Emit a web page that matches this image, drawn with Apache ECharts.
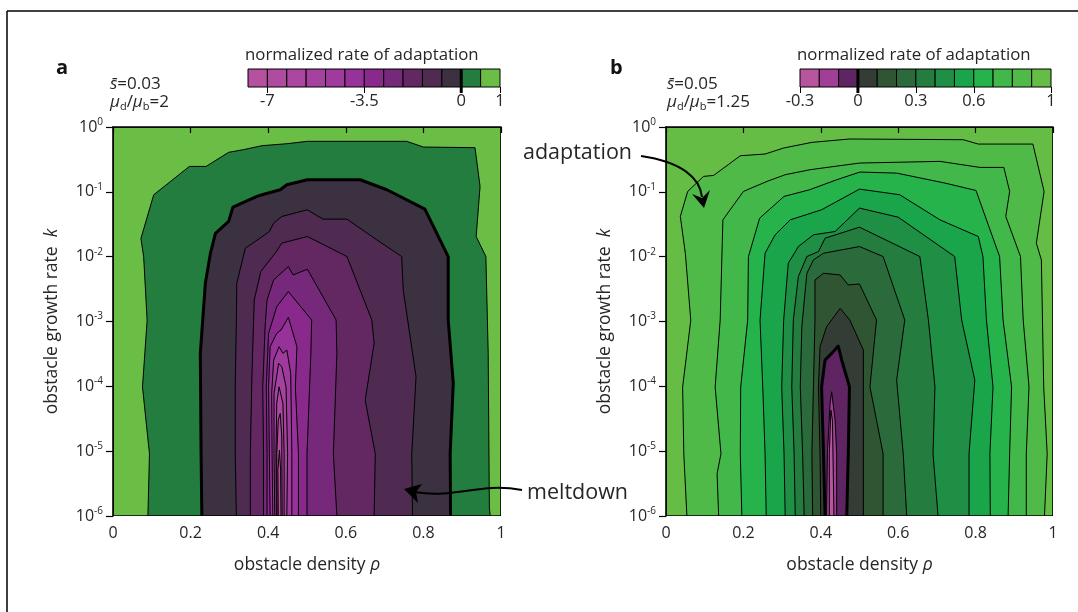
<!DOCTYPE html>
<html><head><meta charset="utf-8">
<script src="https://cdn.jsdelivr.net/npm/echarts@6/dist/echarts.min.js"></script>
<style>html,body{margin:0;padding:0;background:#fff}#c{width:1078px;height:612px}</style>
</head><body><div id="c"></div>
<script>
// ---------- data ----------
const rhoTicks = [0, 0.2, 0.4, 0.6, 0.8, 1];
const logKTicks = [-6, -5, -4, -3, -2, -1, 0];

// colorbar a: box edges, colors, tick labels
const edgesA = [-7.7, -7, -6.3, -5.6, -4.9, -4.2, -3.5, -2.8, -2.1, -1.4, -0.7, 0, 0.5, 1];
const colorsA = ['#b5519f','#b04ca0','#ab47a0','#a542a0','#9e3b9d','#963299','#88298b','#76297a','#632862','#4f2a51','#3c3140','#237d3e','#6abd45'];
const cbTicksA = [-7, -3.5, 0, 1];
// colorbar b
const edgesB = [-0.3, -0.2, -0.1, 0, 0.1, 0.2, 0.3, 0.4, 0.5, 0.6, 0.7, 0.8, 0.9, 1];
const colorsB = ['#b8559f','#a23d98','#5f2562','#333d35','#2f5532','#2b6a3a','#247c3f','#1f8f46','#1ba54b','#27b34c','#42b74a','#50ba48','#66bd46'];
const cbTicksB = [-0.3, 0, 0.3, 0.6, 1];

// contour levels (outer -> inner) and contour paths [rho, log10 k]
const levelsA = [0.5, 0, -0.7, -1.4, -2.1, -2.8, -3.5, -4.2, -4.9, -5.6, -6.3, -7];
const cA0 = [[0.090,-6],[0.094,-5.04],[0.076,-4.01],[0.088,-2.98],[0.079,-2.0],[0.072,-1.72],[0.105,-1.045],[0.197,-0.608],[0.240,-0.608],[0.298,-0.391],[0.336,-0.350],[0.384,-0.288],[0.448,-0.258],[0.501,-0.221],[0.757,-0.221],[0.800,-0.309],[0.933,-0.319],[0.946,-0.917],[0.936,-1.689],[0.961,-1.998],[0.967,-3.49],[0.970,-5.86],[0.972,-6]];
const cA1 = [[0.229,-6],[0.227,-5.04],[0.225,-3.49],[0.238,-2.41],[0.251,-1.95],[0.264,-1.64],[0.298,-1.457],[0.309,-1.236],[0.371,-1.071],[0.384,-1.045],[0.431,-0.968],[0.448,-0.891],[0.501,-0.814],[0.637,-0.814],[0.706,-0.968],[0.804,-1.267],[0.864,-1.998],[0.864,-2.977],[0.877,-3.95],[0.869,-5.04],[0.870,-6]];
const cA2 = [[0.318,-6],[0.315,-5.04],[0.315,-4.01],[0.318,-2.98],[0.319,-2.41],[0.341,-1.87],[0.379,-1.715],[0.403,-1.612],[0.414,-1.483],[0.435,-1.380],[0.501,-1.277],[0.541,-1.421],[0.603,-1.421],[0.680,-1.741],[0.744,-1.998],[0.748,-2.513],[0.781,-3.852],[0.770,-5.04],[0.772,-6]];
const cA3 = [[0.354,-6],[0.354,-5.04],[0.358,-3.852],[0.364,-2.668],[0.381,-2.23],[0.418,-1.947],[0.435,-1.792],[0.501,-1.689],[0.603,-1.998],[0.667,-2.977],[0.673,-3.337],[0.650,-4.213],[0.676,-5.04],[0.673,-6]];
const cA4 = [[0.388,-6],[0.388,-5.04],[0.386,-4.01],[0.392,-3.08],[0.397,-2.668],[0.414,-2.359],[0.452,-2.153],[0.464,-2.282],[0.501,-2.194],[0.575,-2.977],[0.577,-3.492],[0.568,-5.04],[0.577,-6]];
const cA5 = [[0.397,-6],[0.397,-5.04],[0.395,-4.01],[0.401,-3.183],[0.422,-2.771],[0.452,-2.539],[0.512,-2.977],[0.510,-3.492],[0.500,-5.04],[0.500,-6]];
const cA6 = [[0.405,-6],[0.403,-5.04],[0.401,-4.01],[0.405,-3.389],[0.422,-3.183],[0.433,-3.131],[0.452,-2.936],[0.474,-3.389],[0.470,-4.01],[0.478,-5.04],[0.478,-6]];
const cA7 = [[0.412,-6],[0.410,-5.04],[0.409,-4.11],[0.414,-3.595],[0.428,-3.389],[0.438,-3.492],[0.448,-3.44],[0.458,-3.801],[0.461,-5.04],[0.461,-6]];
const cA8 = [[0.417,-6],[0.415,-5.04],[0.415,-4.11],[0.427,-3.646],[0.435,-3.698],[0.446,-4.007],[0.450,-5.04],[0.448,-6]];
const cA9 = [[0.421,-6],[0.420,-5.04],[0.422,-4.264],[0.428,-4.007],[0.438,-4.264],[0.441,-5.04],[0.441,-6]];
const cA10 = [[0.423,-6],[0.422,-5.04],[0.426,-4.522],[0.431,-4.419],[0.435,-4.779],[0.436,-6]];
const cA11 = [[0.426,-6],[0.425,-5.294],[0.429,-4.985],[0.432,-5.294],[0.433,-6]];
const contoursA = [cA0,cA1,cA2,cA3,cA4,cA5,cA6,cA7,cA8,cA9,cA10,cA11];

const levelsB = [0.9, 0.8, 0.7, 0.6, 0.5, 0.4, 0.3, 0.2, 0.1, 0, -0.1, -0.2];
const cB0 = [[0.054,-6],[0.046,-5.04],[0.043,-4.01],[0.064,-2.98],[0.050,-1.95],[0.037,-1.38],[0.056,-0.994],[0.097,-0.762],[0.123,-0.747],[0.192,-0.443],[0.256,-0.417],[0.304,-0.324],[0.377,-0.237],[0.475,-0.185],[0.768,-0.196],[0.807,-0.263],[0.948,-0.263],[0.977,-0.994],[0.957,-1.792],[0.970,-2.05],[0.976,-4.01],[0.985,-5.04],[0.978,-6]];
const cB1 = [[0.136,-6],[0.132,-5.346],[0.142,-5.04],[0.127,-4.01],[0.140,-2.98],[0.147,-1.432],[0.200,-0.994],[0.261,-0.839],[0.308,-0.736],[0.372,-0.659],[0.500,-0.556],[0.708,-0.530],[0.811,-0.623],[0.873,-0.623],[0.888,-0.994],[0.878,-1.380],[0.916,-1.998],[0.923,-2.977],[0.938,-4.007],[0.931,-5.04],[0.931,-6]];
const cB2 = [[0.196,-6],[0.192,-5.04],[0.193,-4.01],[0.211,-2.98],[0.213,-2.0],[0.242,-1.406],[0.305,-1.071],[0.371,-0.968],[0.441,-0.814],[0.501,-0.695],[0.596,-0.711],[0.721,-0.865],[0.801,-0.979],[0.862,-1.998],[0.871,-2.977],[0.893,-4.007],[0.888,-5.04],[0.884,-6]];
const cB3 = [[0.259,-6],[0.256,-5.04],[0.250,-4.01],[0.243,-2.98],[0.256,-1.947],[0.282,-1.663],[0.321,-1.432],[0.402,-1.277],[0.500,-0.958],[0.604,-1.045],[0.708,-1.432],[0.807,-1.689],[0.819,-1.998],[0.828,-2.977],[0.845,-4.007],[0.837,-5.04],[0.838,-6]];
const cB4 = [[0.308,-6],[0.305,-5.04],[0.299,-4.01],[0.304,-2.98],[0.316,-2.10],[0.342,-1.844],[0.381,-1.663],[0.437,-1.612],[0.500,-1.251],[0.600,-1.391],[0.746,-1.998],[0.764,-2.977],[0.798,-3.904],[0.783,-5.04],[0.783,-6]];
const cB5 = [[0.334,-6],[0.331,-5.04],[0.325,-4.01],[0.329,-2.98],[0.342,-2.307],[0.364,-1.998],[0.394,-1.921],[0.411,-1.715],[0.500,-1.545],[0.656,-1.998],[0.678,-2.977],[0.695,-4.007],[0.690,-5.04],[0.703,-6]];
const cB6 = [[0.357,-6],[0.353,-5.04],[0.347,-4.01],[0.351,-3.08],[0.364,-2.256],[0.381,-2.05],[0.407,-1.947],[0.500,-1.844],[0.561,-1.998],[0.617,-2.977],[0.596,-3.904],[0.613,-5.04],[0.622,-6]];
const cB7 = [[0.379,-6],[0.377,-5.04],[0.381,-4.01],[0.385,-2.98],[0.385,-2.359],[0.407,-2.256],[0.450,-2.282],[0.471,-2.436],[0.500,-2.421],[0.544,-2.977],[0.527,-4.007],[0.561,-5.04],[0.561,-6]];
const cB8 = [[0.400,-6],[0.398,-5.04],[0.394,-4.01],[0.398,-3.389],[0.415,-3.08],[0.450,-2.797],[0.475,-2.977],[0.510,-3.440],[0.510,-5.04],[0.510,-6]];
const cB9 = [[0.411,-6],[0.407,-5.04],[0.402,-4.01],[0.411,-3.595],[0.428,-3.492],[0.445,-3.378],[0.454,-3.595],[0.474,-4.007],[0.471,-5.04],[0.467,-6]];
const cB10 = [[0.415,-6],[0.417,-5.04],[0.424,-4.264],[0.428,-4.084],[0.437,-4.522],[0.441,-5.04],[0.441,-6]];
const cB11 = [[0.422,-6],[0.422,-5.04],[0.426,-4.367],[0.430,-4.522],[0.434,-6]];
const contoursB = [cB0,cB1,cB2,cB3,cB4,cB5,cB6,cB7,cB8,cB9,cB10,cB11];

// ---------- helpers ----------
const FONT = '"Open Sans", "Noto Sans", sans-serif';
const TXT = '#262626';
function edgeIndex(edges, v){ return edges.findIndex(e => Math.abs(e - v) < 1e-9); }
function fillFor(edges, colors, lv){ const j = edgeIndex(edges, lv); return colors[j - 1]; }

function contourSeries(g, contours, levels, edges, colors){
  const data = [{value:[0.5,-3,-1]}].concat(contours.map((c,i)=>({value:[0.5,-3,i]}))).concat([{value:[0.5,-3,-2]}]);
  return {
    type:'custom', xAxisIndex:g, yAxisIndex:g, silent:true, animation:false, clip:true,
    dimensions:['x','y','k'], encode:{x:0, y:1},
    data,
    renderItem(params, api){
      const k = api.value(2);
      if (k === -1){
        const p0 = api.coord([0,0]), p1 = api.coord([1,-6]);
        return {type:'rect', shape:{x:p0[0], y:p0[1], width:p1[0]-p0[0], height:p1[1]-p0[1]}, style:{fill:colors[colors.length-1]}, z2:0};
      }
      if (k === -2){
        const p0 = api.coord([0,0]), p1 = api.coord([1,-6]);
        return {type:'rect', shape:{x:p0[0], y:p0[1], width:p1[0]-p0[0], height:p1[1]-p0[1]}, style:{fill:null, stroke:'#000', lineWidth:1.6}, z2:100};
      }
      const pts = contours[k].map(p => api.coord(p));
      const lv = levels[k];
      return {type:'group', children:[
        {type:'polygon', shape:{points:pts}, style:{fill:fillFor(edges, colors, lv)}, z2:1+k},
        {type:'polyline', shape:{points:pts}, style:{fill:null, stroke:'#000', lineWidth: lv === 0 ? 3 : 1, lineJoin:'round'}, z2:50+k}
      ]};
    }
  };
}

function colorbarSeries(g, edges, colors){
  const zi = edgeIndex(edges, 0);
  const data = colors.map((c,i)=>({value:[i+0.5, 0.5, i]})).concat([{value:[zi, 0.5, -1]}]);
  return {
    type:'custom', xAxisIndex:g, yAxisIndex:g, silent:true, animation:false,
    dimensions:['x','y','k'], encode:{x:0, y:1}, data,
    renderItem(params, api){
      const k = api.value(2);
      if (k === -1){
        const a = api.coord([zi,1]), b = api.coord([zi,0]);
        return {type:'line', shape:{x1:a[0], y1:a[1], x2:b[0], y2:b[1]+6}, style:{stroke:'#000', lineWidth:3}, z2:20};
      }
      const a = api.coord([k,1]), b = api.coord([k+1,0]);
      return {type:'rect', shape:{x:a[0], y:a[1], width:b[0]-a[0], height:b[1]-a[1]}, style:{fill:colors[k], stroke:'#000', lineWidth:1}, z2:1};
    }
  };
}

const nameRich = {n:{fontSize:17.5, fontFamily:FONT, color:TXT}, i:{fontSize:17.5, fontFamily:FONT, fontStyle:'italic', color:TXT}};
function plotXAxis(g){
  return {gridIndex:g, type:'value', min:0, max:1, interval:0.2, z:10,
    axisLine:{show:true, lineStyle:{color:'#000', width:1.6}},
    axisTick:{show:true, length:6, lineStyle:{color:'#000', width:1.2}, customValues: rhoTicks},
    axisLabel:{color:TXT, fontSize:16, fontFamily:FONT, margin:9, customValues: rhoTicks, formatter: v => String(+(+v).toFixed(1))},
    splitLine:{show:false},
    name:'{n|obstacle density }{i|ρ}', nameLocation:'middle', nameGap:40,
    nameTextStyle:{rich:nameRich}
  };
}
function plotYAxis(g){
  return {gridIndex:g, type:'value', min:-6, max:0, interval:1, z:10,
    axisLine:{show:true, lineStyle:{color:'#000', width:1.6}},
    axisTick:{show:true, length:7, lineStyle:{color:'#000', width:1.2}, customValues: logKTicks},
    axisLabel:{margin:10, customValues: logKTicks, formatter: v => '{b|10}{s|' + (v === 0 ? '0' : String(v)) + '}',
      rich:{b:{fontSize:16, fontFamily:FONT, color:TXT, lineHeight:20}, s:{fontSize:10, fontFamily:FONT, color:TXT, lineHeight:11, verticalAlign:'top'}}},
    splitLine:{show:false},
    name:'{n|obstacle growth rate  }{i|k}', nameLocation:'middle', nameGap:52,
    nameTextStyle:{rich:nameRich}
  };
}
function cbXAxis(g, edges, ticks){
  const pos = ticks.map(t => edgeIndex(edges, t));
  return {gridIndex:g, type:'value', min:0, max:edges.length-1, z:10,
    axisLine:{show:false},
    axisTick:{show:true, length:6, lineStyle:{color:'#000', width:1}, customValues:pos},
    axisLabel:{color:TXT, fontSize:16.5, fontFamily:FONT, margin:6, customValues:pos,
      formatter: v => { const i = Math.round(v); const t = edges[i]; return String(+t.toFixed(2)); }},
    splitLine:{show:false}
  };
}
function cbYAxis(g){ return {gridIndex:g, type:'value', min:0, max:1, show:false}; }

function paramText(x, sVal, ratio){
  const rich = {
    i:{fontSize:17, fontFamily:FONT, fontStyle:'italic', fill:TXT, lineHeight:20},
    n:{fontSize:17, fontFamily:FONT, fill:TXT, lineHeight:20},
    sub:{fontSize:11, fontFamily:FONT, fill:TXT, lineHeight:11, verticalAlign:'bottom'}
  };
  return [
    {type:'text', z:100, x:x, y:84, style:{text:'{i|s\u0304}{n|=' + sVal + '}', rich, verticalAlign:'middle', align:'left'}},
    {type:'text', z:100, x:x, y:102, style:{text:'{i|μ}{sub|d}{n|/}{i|μ}{sub|b}{n|=' + ratio + '}', rich, verticalAlign:'middle', align:'left'}}
  ];
}

const chart = echarts.init(document.getElementById('c'), null, {renderer:'canvas'});
chart.setOption({
  animation:false,
  backgroundColor:'#fff',
  textStyle:{fontFamily:FONT},
  grid:[
    {left:113, top:127, width:388, height:389},
    {left:666, top:127, width:387, height:389},
    {left:248, top:69, width:252, height:18},
    {left:800, top:69, width:251, height:18}
  ],
  xAxis:[plotXAxis(0), plotXAxis(1), cbXAxis(2, edgesA, cbTicksA), cbXAxis(3, edgesB, cbTicksB)],
  yAxis:[plotYAxis(0), plotYAxis(1), cbYAxis(2), cbYAxis(3)],
  series:[
    contourSeries(0, contoursA, levelsA, edgesA, colorsA),
    contourSeries(1, contoursB, levelsB, edgesB, colorsB),
    colorbarSeries(2, edgesA, colorsA),
    colorbarSeries(3, edgesB, colorsB)
  ],
  graphic:[
    {type:'line', z:100, shape:{x1:7, y1:11, x2:1078, y2:11}, style:{stroke:'#000', lineWidth:1.5}},
    {type:'line', z:100, shape:{x1:7, y1:11, x2:7, y2:612}, style:{stroke:'#000', lineWidth:1.5}},
    {type:'text', z:100, x:56, y:68, style:{text:'a', font:'bold 20px ' + FONT, fill:'#111', verticalAlign:'middle'}},
    {type:'text', z:100, x:610, y:68, style:{text:'b', font:'bold 20px ' + FONT, fill:'#111', verticalAlign:'middle'}},
    {type:'text', z:100, x:245, y:55, style:{text:'normalized rate of adaptation', font:'16.8px ' + FONT, fill:TXT, verticalAlign:'middle'}},
    {type:'text', z:100, x:797, y:55, style:{text:'normalized rate of adaptation', font:'16.8px ' + FONT, fill:TXT, verticalAlign:'middle'}},
    ...paramText(110, '0.03', '2'),
    ...paramText(667, '0.05', '1.25'),
    {type:'text', z:100, x:523, y:153, style:{text:'adaptation', font:'21.5px ' + FONT, fill:TXT, verticalAlign:'middle'}},
    {type:'text', z:100, x:527, y:493, style:{text:'meltdown', font:'21.5px ' + FONT, fill:TXT, verticalAlign:'middle'}},
    {type:'bezierCurve', z:100, shape:{x1:641, y1:156, cpx1:682, cpy1:162, cpx2:700, cpy2:178, x2:702, y2:197}, style:{stroke:'#000', lineWidth:2, fill:null}},
    {type:'polygon', z:100, shape:{points:[[704,208],[692,194],[702,198],[710,190]]}, style:{fill:'#000'}},
    {type:'bezierCurve', z:100, shape:{x1:522, y1:490, cpx1:478, cpy1:482, cpx2:458, cpy2:499, x2:414, y2:492}, style:{stroke:'#000', lineWidth:2, fill:null}},
    {type:'polygon', z:100, shape:{points:[[404,489],[422,484],[416,492],[418,503]]}, style:{fill:'#000'}}
  ]
});
</script></body></html>
